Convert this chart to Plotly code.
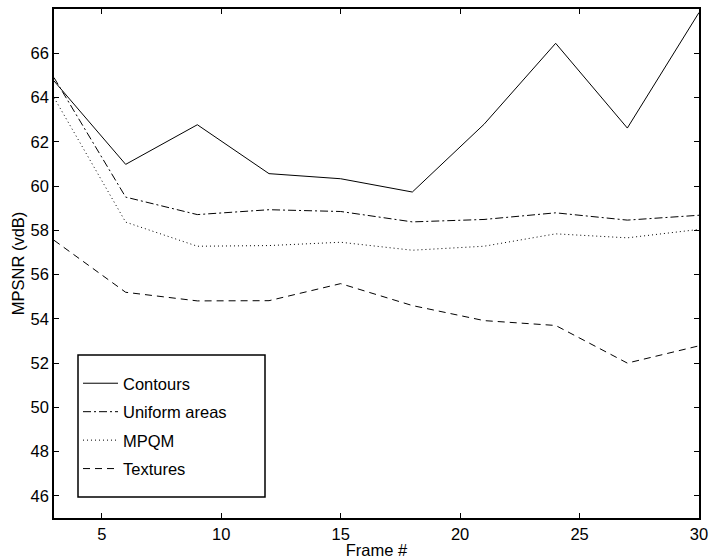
import plotly.graph_objects as go

# Frame numbers and per-region MPSNR values (vdB)
frames = [3, 6, 9, 12, 15, 18, 21, 24, 27, 30]
contours = [64.75, 60.98, 62.77, 60.56, 60.33, 59.73, 62.79, 66.45, 62.62, 67.84]
uniform_areas = [64.9, 59.5, 58.71, 58.93, 58.85, 58.38, 58.49, 58.79, 58.46, 58.68]
mpqm = [64.0, 58.37, 57.28, 57.31, 57.46, 57.1, 57.28, 57.84, 57.66, 58.04]
textures = [57.55, 55.2, 54.81, 54.82, 55.59, 54.6, 53.92, 53.7, 52.0, 52.78]

x_ticks = [5, 10, 15, 20, 25, 30]
y_ticks = [46, 48, 50, 52, 54, 56, 58, 60, 62, 64, 66]

series = [
    ("Contours", contours, "solid"),
    ("Uniform areas", uniform_areas, "8px,3px,2px,3px"),
    ("MPQM", mpqm, "1px,3px"),
    ("Textures", textures, "7px,5px"),
]

fig = go.Figure()
for i, (name, values, dash) in enumerate(series):
    fig.add_trace(go.Scatter(
        x=frames, y=values, name=name, mode="lines",
        line=dict(color="black", width=1, dash=dash),
        legendgroup=f"g{i}",
    ))

font = dict(family="Liberation Sans, Arial, sans-serif", size=16.5, color="black")

axis_common = dict(
    showgrid=False, zeroline=False, showline=True, linecolor="black", linewidth=1.5,
    mirror="ticks", ticks="inside", ticklen=5, tickcolor="black", tickwidth=1,
    tickfont=font, automargin=False,
)

# plot area spans x 54..699 px and y 9..518 px
L, R, T, B = 54, 10, 9, 41
PW, PH = 709 - L - R, 559 - T - B


def px_x(p):
    return (p - L) / PW


def px_y(p):
    return (559 - B - p) / PH


fig.update_layout(
    width=709, height=559,
    margin=dict(l=L, r=R, t=T, b=B),
    paper_bgcolor="white", plot_bgcolor="white",
    font=font,
    xaxis=dict(range=[3, 30], tickvals=x_ticks,
               title=dict(text="Frame #", font=font, standoff=4), **axis_common),
    yaxis=dict(range=[45, 68], tickvals=y_ticks,
               title=dict(text="MPSNR (vdB)", font=font, standoff=2), **axis_common),
    legend=dict(
        x=px_x(78), y=px_y(366), xanchor="left", yanchor="top",
        bgcolor="rgba(0,0,0,0)", borderwidth=0, font=font,
        tracegroupgap=4, itemwidth=35,
    ),
    shapes=[dict(
        type="rect", xref="paper", yref="paper",
        x0=px_x(78), x1=px_x(265), y0=px_y(497), y1=px_y(355),
        line=dict(color="black", width=1.5), fillcolor="white", layer="below",
    )],
)

fig.write_html("out.html")
